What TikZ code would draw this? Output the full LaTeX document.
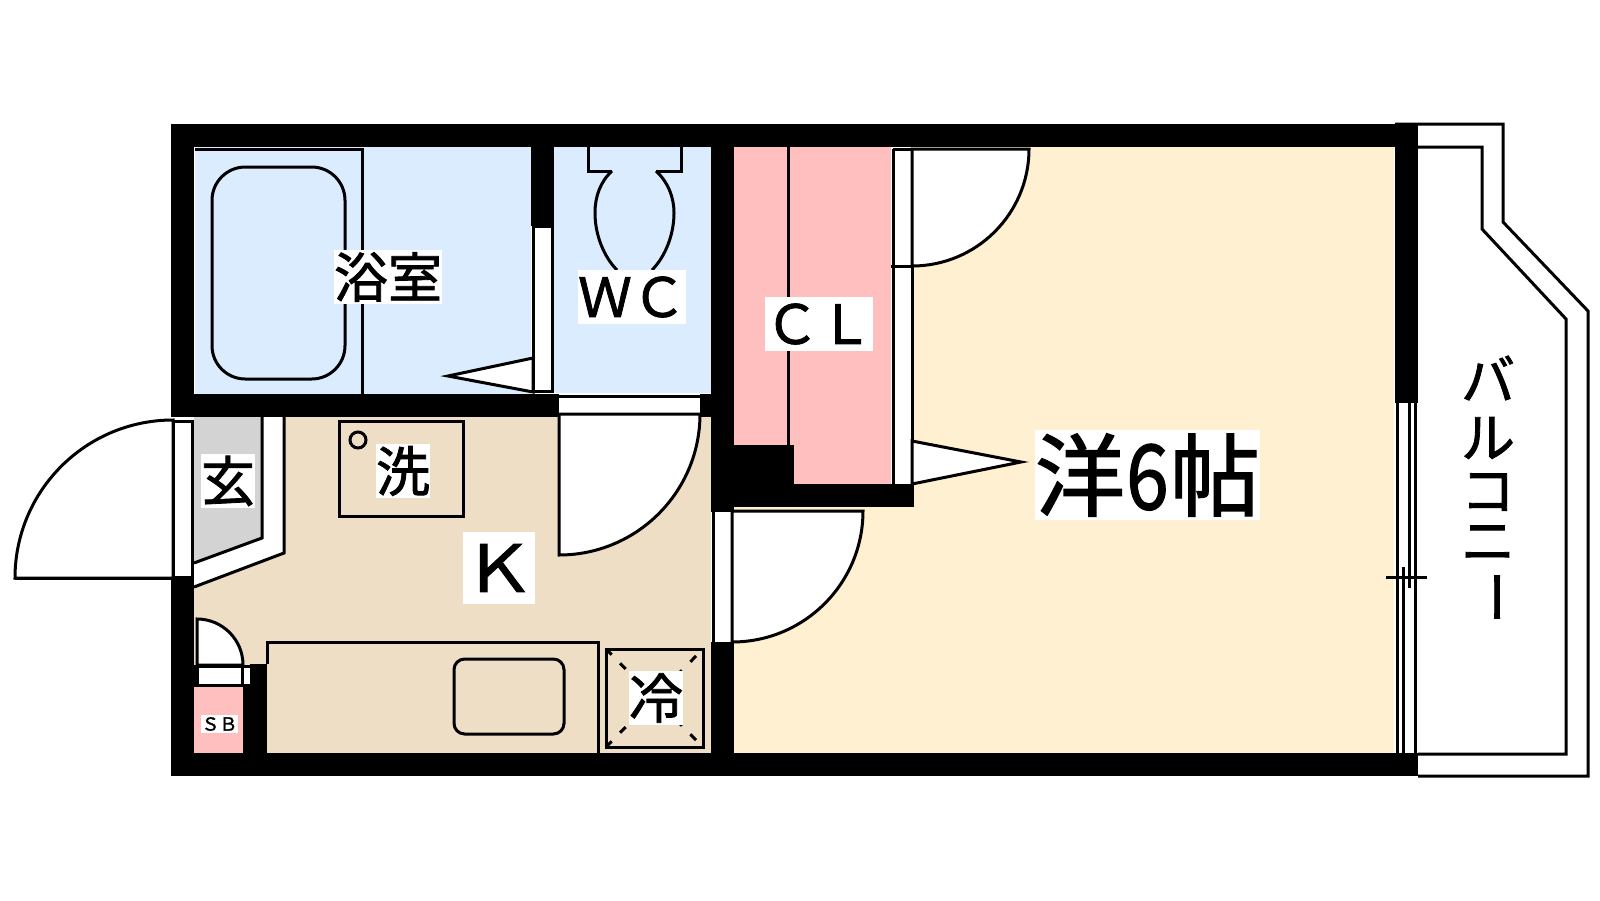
\documentclass[tikz,border=0pt]{standalone}
\usepackage{fontspec}
\usepackage{graphicx}
\setmainfont[FakeBold=1.5]{Noto Sans CJK JP}
\definecolor{bathblue}{HTML}{DBECFF}
\definecolor{clpink}{HTML}{FFBFBF}
\definecolor{kitbeige}{HTML}{EEDEC6}
\definecolor{roomcream}{HTML}{FEF0D0}
\definecolor{entrygrey}{HTML}{D3D3D3}
\def\U{0.75pt}
\tikzset{
  wall/.style={fill=black,draw=none},
  ln/.style={draw=black,line width=2.25pt,line join=miter},
  opening/.style={draw=black,line width=2.25pt,fill=white},
  lbl/.style={fill=white,inner sep=0pt,text=black,align=center,anchor=center},
  t54/.style={lbl,minimum height=40.5pt,minimum width=40.5pt,font=\fontsize{40.5}{40.5}\selectfont},
  t54w/.style={t54,minimum width=81pt},
  t72/.style={lbl,minimum height=54pt,minimum width=54pt,font=\fontsize{54}{54}\selectfont},
  t90/.style={lbl,minimum height=67.5pt,minimum width=168.75pt,font=\fontsize{67.5}{67.5}\selectfont},
  t18/.style={lbl,minimum height=13.5pt,minimum width=27.75pt,font=\fontsize{13.5}{13.5}\selectfont},
  vt/.style={inner sep=0pt,text=black,anchor=center,font=\fontsize{40.5}{40.5}\selectfont},
}
\begin{document}
\begin{tikzpicture}[x=0.75pt,y=-0.75pt]
\useasboundingbox (0,0) rectangle (1600,900);
\fill[white] (0,0) rectangle (1600,900);
% room fills
\fill[bathblue] (195,147) rectangle (531,394);
\fill[bathblue] (554,147) rectangle (711,393);
\fill[kitbeige] (194,417) rectangle (711,753);
\fill[roomcream] (734,147) rectangle (1394,753);
\fill[clpink] (734,147) rectangle (891,484);
% entry
\fill[white] (194,417) -- (284,417) -- (284,553) -- (194,587) -- cycle;
\fill[entrygrey] (194,417) -- (262,417) -- (262,538) -- (194,563) -- cycle;
\draw[ln] (262,417) -- (262,538) -- (194,563);
\draw[ln] (284,417) -- (284,553) -- (194,587);
% SB closet
\fill[clpink] (194,687) rectangle (243,753);
% walls
\fill[wall] (171,124) rectangle (1395,147);
\fill[wall] (171,124) rectangle (194,417);
\fill[wall] (171,577) rectangle (194,776);
\fill[wall] (171,753) rectangle (1418,776);
\fill[wall] (171,394) rectangle (559,417);
\fill[wall] (700,394) rectangle (734,417);
\fill[wall] (531,147) rectangle (554,226);
\fill[wall] (711,124) rectangle (734,512);
\fill[wall] (711,642) rectangle (734,753);
\fill[wall] (711,484) rectangle (914,507);
\fill[wall] (734,445) rectangle (794,484);
\fill[wall] (1395,124) rectangle (1418,403);
\fill[wall] (1395,753) rectangle (1418,776);
\fill[wall] (243,685) rectangle (267,753);
\fill[wall] (250,664) rectangle (267,685);
\fill[wall] (194,665) rectangle (197,687);
% bathroom fixtures
\draw[ln] (195,149) -- (362,149) -- (362,394);
\draw[ln,rounded corners=25pt] (212,167) rectangle (345,379);
% bath door
\draw[opening] (533,226) rectangle (552,391);
\draw[opening] (533,358) -- (448,376) -- (533,392) -- cycle;
% WC fixtures
\draw[ln] (612,171) -- (588,171) -- (588,147);
\draw[ln] (656,171) -- (681,171) -- (681,147);
\draw[ln] (612,171) .. controls (600,182) and (595,197) .. (595,213) .. controls (595,235) and (604,257) .. (617,270);
\draw[ln] (656,171) .. controls (668,182) and (674,197) .. (674,213) .. controls (674,235) and (665,257) .. (652,270);
% CL divider
\draw[ln] (788,147) -- (788,445);
% closet door
\fill[white] (891,147) rectangle (914,484);
\draw[ln] (893,149) -- (893,484);
\draw[ln] (912,149) -- (912,484);
\draw[ln] (893,149) -- (912,149);
\draw[opening] (912,149) -- (1029,149) arc[start angle=0,end angle=-90,radius=117*\U] -- cycle;
\draw[ln] (891,266) -- (912,266);
\draw[opening] (912,441) -- (1021,462) -- (912,484) -- cycle;
% WC door
\fill[white] (559,394) rectangle (700,417);
\draw[ln] (559,396) -- (700,396);
\draw[opening] (559,414) -- (700,414) arc[start angle=0,end angle=-90,radius=141*\U] -- cycle;
% main door
\fill[white] (711,512) rectangle (734,642);
\draw[ln] (713,512) -- (713,642);
\draw[ln] (732,512) -- (732,642);
\draw[opening] (732,511) -- (863,511) arc[start angle=0,end angle=-90,radius=131*\U] -- cycle;
% entry door
\fill[white] (171,417) rectangle (194,577);
\draw[opening] (173,421) rectangle (192,577);
\draw[opening] (173,420) arc[start angle=90,end angle=180,radius=158*\U] -- (173,578) -- cycle;
\draw[ln] (15,578) -- (192,578);
% SB door
\fill[white] (197,666) rectangle (250,685);
\draw[ln] (194,666) -- (250,666);
\draw[ln] (194,685) -- (250,685);
\draw[ln] (242,666) -- (242,685);
\draw[ln] (197,666) -- (197,685);
\draw[opening] (197,619) arc[start angle=90,end angle=0,radius=46*\U] -- (197,665) -- cycle;
% kitchen fixtures
\draw[ln] (267,664) -- (267,642) -- (598,642) -- (598,753);
\draw[ln,rounded corners=8pt] (454,659) rectangle (564,734);
\draw[ln] (339,421) rectangle (463,516);
\draw[ln] (358,440) circle[radius=8*\U];
\draw[ln] (606,649) rectangle (703,747);
\draw[ln,dash pattern=on 6pt off 9pt] (606,649) -- (703,747);
\draw[ln,dash pattern=on 6pt off 9pt] (606,747) -- (703,649);
% window
\fill[white] (1395,403) rectangle (1418,753);
\draw[ln] (1397,403) -- (1397,753);
\draw[ln] (1403,567) -- (1403,753);
\draw[ln] (1409,403) -- (1409,588);
\draw[ln] (1415,403) -- (1415,753);
\draw[ln] (1386,577) -- (1427,577);
% balcony
\draw[ln] (1395,124) -- (1503,124) -- (1503,222) -- (1588,311) -- (1588,776) -- (1418,776);
\draw[ln] (1418,147) -- (1482,147) -- (1482,229) -- (1566,319) -- (1566,754) -- (1418,754);
% labels
\node[t54w] (bath) at (388,277) {浴室};
\node[t54w] (wc) at (632,297) {ＷＣ};
\node[t54w] (cl) at (819,324) {ＣＬ};
\node[t54] (gen) at (228,481) {玄};
\node[t54] (wash) at (403,471) {洗};
\node[t72] (k) at (499,568) {\raisebox{-3pt}{\scalebox{1}[0.9]{Ｋ}}};
\node[t54] (fridge) at (656,698) {冷};
\node[t18] (sb) at (219.5,724) {ＳＢ};
\node[t90] (room) at (1147.5,475) {洋\makebox[33.75pt]{\scalebox{0.85}[1]{6}}帖};
\node[vt] (b1) at (1488,378) {バ};
\node[vt] (b2) at (1488,438) {ル};
\node[vt] (b3) at (1488,492) {コ};
\node[vt] (b4) at (1488,543) {ニ};
\node[vt,rotate=-90] (b5) at (1488,597) {ー};
\end{tikzpicture}
\end{document}
